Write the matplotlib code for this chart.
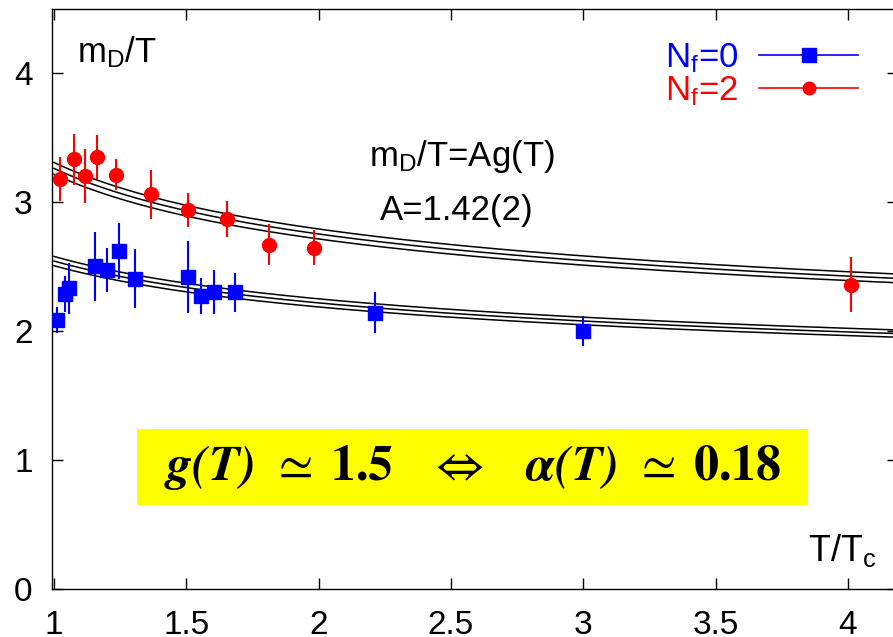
import numpy as np
import matplotlib
matplotlib.use('Agg')
import matplotlib.pyplot as plt
from matplotlib.patches import Rectangle

plt.rcParams['font.family'] = ['Liberation Sans', 'DejaVu Sans']
plt.rcParams['mathtext.fontset'] = 'custom'
plt.rcParams['mathtext.rm'] = 'Liberation Sans'
plt.rcParams['mathtext.it'] = 'Liberation Sans:italic'

# Nf=0 (quenched) data
t0 = [1.01, 1.04, 1.055, 1.155, 1.20, 1.245, 1.305, 1.505, 1.554, 1.605, 1.684, 2.213, 3.0]
m0 = [2.085, 2.29, 2.33, 2.50, 2.47, 2.62, 2.405, 2.42, 2.27, 2.30, 2.30, 2.142, 2.0]
e0 = [0.10, 0.14, 0.20, 0.27, 0.17, 0.22, 0.23, 0.28, 0.14, 0.17, 0.15, 0.16, 0.12]

# Nf=2 data
t2 = [1.024, 1.074, 1.116, 1.164, 1.234, 1.365, 1.505, 1.654, 1.813, 1.983, 4.01]
m2 = [3.18, 3.33, 3.20, 3.35, 3.21, 3.06, 2.94, 2.87, 2.67, 2.646, 2.36]
e2 = [0.17, 0.20, 0.21, 0.17, 0.12, 0.19, 0.13, 0.14, 0.16, 0.135, 0.21]

# fit m_D/T = A g(T), one-loop g(T), band A +- dA
b0_nf0 = 11.0 / (16 * np.pi**2)
b0_nf2 = (11.0 - 2 * 2.0 / 3.0) / (16 * np.pi**2)
c_nf0 = 9.1     # 2 pi Tc / Lambda
c_nf2 = 5.57
A_nf0 = [1.39, 1.41, 1.43]
A_nf2 = [1.474, 1.495, 1.516]


def g_of_t(t, b0, c):
    return 1.0 / np.sqrt(2 * b0 * np.log(c * t))


fig = plt.figure(figsize=(8.93, 6.37), dpi=100)
ax = fig.add_axes([52 / 893, 48 / 637, 846 / 893, 580 / 637])

tt = np.linspace(1.0, 4.25, 300)
for a in A_nf0:
    ax.plot(tt, a * g_of_t(tt, b0_nf0, c_nf0), color='black', lw=1.1, zorder=2)
for a in A_nf2:
    ax.plot(tt, a * g_of_t(tt, b0_nf2, c_nf2), color='black', lw=1.1, zorder=2)

ax.errorbar(t0, m0, yerr=e0, fmt='s', color='blue', ms=10, elinewidth=1.5,
            capsize=0, zorder=3)
ax.errorbar(t2, m2, yerr=e2, fmt='o', color='red', ms=10, elinewidth=1.5,
            capsize=0, zorder=3)

# legend proxies
ax.plot([], [], '-s', color='blue', ms=10, lw=1.2, label=r'N$_\mathregular{f}$=0')
ax.plot([], [], '-o', color='red', ms=9, lw=1.2, label=r'N$_\mathregular{f}$=2')
ax.legend(loc='upper right', bbox_to_anchor=(0.953, 0.945), markerfirst=False,
          frameon=False, fontsize=25, labelcolor='linecolor', handlelength=2.85,
          handletextpad=0.6, labelspacing=0.0, borderpad=0, borderaxespad=0)

ax.set_xlim(0.9924, 4.189)
ax.set_ylim(0, 4.496)
ax.set_xticks([1, 1.5, 2, 2.5, 3, 3.5, 4])
ax.set_xticklabels(['1', '1.5', '2', '2.5', '3', '3.5', '4'])
ax.set_yticks([0, 1, 2, 3, 4])
ax.tick_params(direction='in', length=8, width=1, labelsize=24, top=True,
               right=True, pad=14)
ax.tick_params(axis='x', pad=15)
for s in ax.spines.values():
    s.set_linewidth(1.0)

ax.text(0.03, 0.925, r'm$_\mathregular{D}$/T', transform=ax.transAxes,
        fontsize=25, ha='left', va='center')
ax.text(0.484, 0.745, r'm$_\mathregular{D}$/T=Ag(T)', transform=ax.transAxes,
        fontsize=25, ha='center', va='center')
ax.text(0.479, 0.652, 'A=1.42(2)', transform=ax.transAxes,
        fontsize=25, ha='center', va='center')
ax.text(0.975, 0.035, r'T/T$_\mathregular{c}$', transform=ax.transAxes,
        fontsize=26, ha='right', va='bottom')

ax.add_patch(Rectangle((85 / 846, 84 / 580), 671 / 846, 76 / 580,
                       transform=ax.transAxes, facecolor='#ffff00',
                       edgecolor='none', zorder=4))
ax.text(0.497, 0.21,
        r'$\mathbfit{g(T)}\,\;\simeq\;\mathbf{1.5}\quad\Leftrightarrow\quad'
        r'\mathbfit{\alpha(T)}\,\;\simeq\;\mathbf{0.18}$',
        transform=ax.transAxes, fontsize=36, ha='center', va='center',
        math_fontfamily='stix', zorder=5)

fig.savefig('out.png', dpi=100)
